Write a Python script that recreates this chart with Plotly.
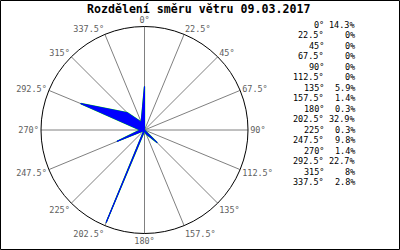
import plotly.graph_objects as go

# Data
directions = [0, 22.5, 45, 67.5, 90, 112.5, 135, 157.5, 180, 202.5, 225, 247.5, 270, 292.5, 315, 337.5]
dir_labels = ["0", "22.5", "45", "67.5", "90", "112.5", "135", "157.5", "180", "202.5", "225", "247.5", "270", "292.5", "315", "337.5"]
percent = [14.3, 0, 0, 0, 0, 0, 5.9, 1.4, 0.3, 32.9, 0.3, 9.8, 1.4, 22.7, 8, 2.8]
pct_labels = ["14.3", "0", "0", "0", "0", "0", "5.9", "1.4", "0.3", "32.9", "0.3", "9.8", "1.4", "22.7", "8", "2.8"]
title_text = "Rozdělení směru větru 09.03.2017"

W, H = 400, 250
cx, cy, R = 144.5, 130.0, 103.5

theta_closed = directions + [directions[0]]
r_closed = percent + [percent[0]]

fig = go.Figure()
fig.add_trace(go.Scatterpolar(
    r=r_closed, theta=theta_closed, mode="lines",
    line=dict(color="#00e000", width=1.4), hoverinfo="skip", showlegend=False,
))
fig.add_trace(go.Scatterpolar(
    r=r_closed, theta=theta_closed, mode="lines", fill="toself",
    fillcolor="#0000ff", line=dict(color="#0000ff", width=1),
    showlegend=False,
))

mono = "DejaVu Sans Mono"
fig.update_layout(
    width=W, height=H,
    margin=dict(l=0, r=0, t=0, b=0),
    paper_bgcolor="white", plot_bgcolor="white",
    polar=dict(
        domain=dict(x=[(cx - R) / W, (cx + R) / W], y=[(H - cy - R) / H, (H - cy + R) / H]),
        bgcolor="white",
        radialaxis=dict(visible=False, range=[0, 34]),
        angularaxis=dict(
            direction="clockwise", rotation=90,
            tickmode="array", tickvals=directions,
            ticktext=[d + "°" for d in dir_labels],
            showline=True, linecolor="black", linewidth=1,
            showgrid=True, gridcolor="#808080", gridwidth=1,
            ticks="", tickfont=dict(family=mono, size=8.5, color="#606060"),
        ),
    ),
    showlegend=False,
)

annotations = [dict(
    text="<b>" + title_text + "</b>", x=198.5 / W, y=1 - 9 / H, xref="paper", yref="paper",
    xanchor="center", yanchor="middle", showarrow=False,
    font=dict(family=mono, size=11.6, color="black"),
)]
for i, (d, p) in enumerate(zip(dir_labels, pct_labels)):
    yy = 1 - (25 + 10.47 * i) / H
    annotations.append(dict(text=d + "°", x=325.5 / W, y=yy, xref="paper", yref="paper",
                            xanchor="right", yanchor="middle", showarrow=False,
                            font=dict(family=mono, size=8.5, color="black")))
    annotations.append(dict(text=p + "%", x=357 / W, y=yy, xref="paper", yref="paper",
                            xanchor="right", yanchor="middle", showarrow=False,
                            font=dict(family=mono, size=8.5, color="black")))
fig.update_layout(annotations=annotations)

fig.add_shape(type="rect", xref="paper", yref="paper",
              x0=0.5 / W, x1=1 - 0.5 / W, y0=0.5 / H, y1=1 - 0.5 / H,
              line=dict(color="black", width=1), fillcolor="rgba(0,0,0,0)")

fig.write_html("out.html")
